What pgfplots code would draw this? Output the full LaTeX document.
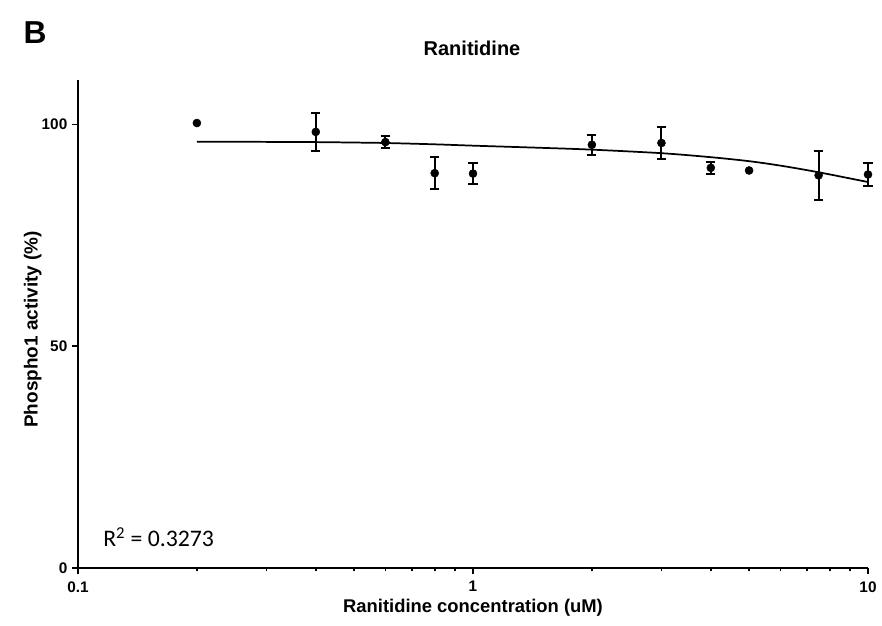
\documentclass[border=0pt]{standalone}
\usepackage{pgfplots}
\pgfplotsset{compat=1.18}
\usepackage{fontspec}
\setmainfont{Liberation Sans}
\newfontfamily\carlito{Carlito}
\begin{document}
\begin{tikzpicture}[x=1pt,y=1pt]
\path[use as bounding box] (-58.5,-42.75) rectangle (603,426);
\begin{axis}[
  at={(0,0)}, anchor=south west,
  scale only axis, width=592.5pt, height=366pt,
  xmode=log, xmin=0.1, xmax=10, ymin=0, ymax=110,
  axis x line=bottom, axis y line=left,
  axis line style={line width=1.4pt, -},
  xtick={0.1,1,10}, xticklabels={0.1,1,10},
  minor xtick={0.2,0.3,0.4,0.5,0.6,0.7,0.8,0.9,2,3,4,5,6,7,8,9},
  ytick={0,50,100},
  tick align=outside,
  major tick length=4.5pt, minor tick length=2.5pt,
  every tick/.style={black, line width=1.2pt},
  tick label style={font=\bfseries\fontsize{11.5}{13}\selectfont},
  xticklabel style={yshift=-2pt},
  /pgf/number format/assume math mode=true,
  clip=false,
]
% fitted curve
\addplot[black, line width=1.3pt, smooth, no marks] coordinates {
  (0.2,96.1) (0.3,96.05) (0.4,96.0) (0.5,95.9) (0.6,95.8) (0.8,95.5)
  (1,95.2) (1.5,94.7) (2,94.3) (3,93.5) (4,92.6) (5,91.7) (6,90.7)
  (7.5,89.2) (10,87.0)
};
% data with SEM
\addplot[black, only marks, mark=*, mark size=3pt,
  error bars/.cd, y dir=both, y explicit,
  error bar style={line width=1.5pt},
  error mark options={rotate=90, mark size=3.4pt, line width=1.5pt}]
  table[x=x, y=y, y error=e] {
  x    y     e
  0.4  98.3  4.2
  0.6  96.0  1.4
  0.8  89.0  3.6
  1    88.9  2.3
  2    95.4  2.3
  3    95.8  3.7
  4    90.2  1.4
  7.5  88.5  5.6
  10   88.7  2.6
};
% data with error smaller than the symbol
\addplot[black, only marks, mark=*, mark size=3pt] table[x=x, y=y] {
  x    y
  0.2  100.3
  5    89.6
};
\end{axis}
\node[font=\bfseries\fontsize{15}{18}\selectfont] at (295.5,390) {Ranitidine};
\node[font=\bfseries\fontsize{23.8}{28}\selectfont] at (-32.25,401.5) {B};
\node[font=\bfseries\fontsize{13.8}{16}\selectfont] at (296.25,-30) {Ranitidine concentration (uM)};
\node[font=\bfseries\fontsize{14.2}{17}\selectfont, rotate=90] at (-34,179) {Phospho1 activity (\%)};
\node[font=\carlito\fontsize{17.8}{21}\selectfont, anchor=base west, inner sep=0pt] at (18.75,15.75) {R\textsuperscript{2} = 0.3273};
\end{tikzpicture}
\end{document}
